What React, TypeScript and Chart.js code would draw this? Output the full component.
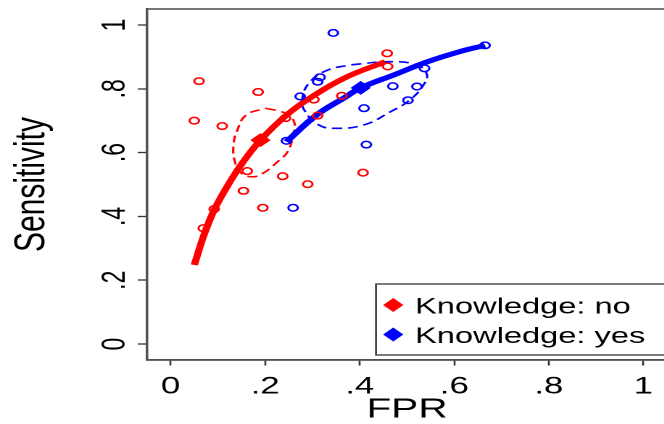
import React, { useEffect, useRef } from "react";
import { Chart, registerables } from "chart.js";

Chart.register(...registerables);

const RED = "#ff0000";
const BLUE = "#0000ff";
const AXIS = "#333333";
const FONT = "'Liberation Sans', Arial, Helvetica, sans-serif";

// The reference picture is widened horizontally; the chart is drawn narrower and stretched by this factor.
const STRETCH = 1.45;
const VIEW_W = 664;
const VIEW_H = 424;
const CANVAS_W = 467;
const CANVAS_H = 424;

const xTickValues = [0, 0.2, 0.4, 0.6, 0.8, 1];
const xTickLabels = ["0", ".2", ".4", ".6", ".8", "1"];
const yTickValues = [0, 0.2, 0.4, 0.6, 0.8, 1];
const yTickLabels = ["0", ".2", ".4", ".6", ".8", "1"];

const legendLabels = ["Knowledge: no", "Knowledge: yes"];
const legendColors = [RED, BLUE];

// Knowledge: no (red)
const noStudyFPR = [0.06, 0.185, 0.05, 0.109, 0.243, 0.303, 0.362, 0.311, 0.458, 0.459, 0.162, 0.237, 0.29, 0.407, 0.154, 0.195, 0.092, 0.069];
const noStudySens = [0.824, 0.79, 0.7, 0.683, 0.708, 0.766, 0.778, 0.716, 0.911, 0.87, 0.542, 0.526, 0.501, 0.537, 0.48, 0.427, 0.423, 0.363];
const noSummaryFPR = [0.19];
const noSummarySens = [0.639];
const noCurveFPR = [0.05, 0.07, 0.092, 0.122, 0.15, 0.19, 0.247, 0.302, 0.371, 0.454];
const noCurveSens = [0.248, 0.34, 0.42, 0.5, 0.564, 0.639, 0.72, 0.778, 0.836, 0.885];
const noRegionFPR = [0.202, 0.243, 0.261, 0.259, 0.247, 0.226, 0.195, 0.171, 0.147, 0.135, 0.133, 0.14, 0.16, 0.202];
const noRegionSens = [0.739, 0.723, 0.697, 0.655, 0.602, 0.571, 0.535, 0.524, 0.539, 0.577, 0.624, 0.666, 0.718, 0.739];

// Knowledge: yes (blue)
const yesStudyFPR = [0.344, 0.316, 0.311, 0.274, 0.245, 0.409, 0.414, 0.47, 0.521, 0.502, 0.537, 0.665, 0.259];
const yesStudySens = [0.975, 0.836, 0.822, 0.776, 0.637, 0.739, 0.625, 0.808, 0.807, 0.764, 0.864, 0.936, 0.427];
const yesSummaryFPR = [0.402];
const yesSummarySens = [0.803];
const yesCurveFPR = [0.245, 0.309, 0.371, 0.402, 0.475, 0.544, 0.613, 0.665];
const yesCurveSens = [0.634, 0.718, 0.775, 0.803, 0.845, 0.885, 0.917, 0.936];
const yesRegionFPR = [0.382, 0.465, 0.52, 0.541, 0.537, 0.506, 0.465, 0.409, 0.347, 0.313, 0.285, 0.278, 0.295, 0.333, 0.382];
const yesRegionSens = [0.875, 0.885, 0.875, 0.849, 0.817, 0.765, 0.728, 0.687, 0.676, 0.687, 0.728, 0.765, 0.822, 0.859, 0.875];

const pts = (xs: number[], ys: number[]) => xs.map((x, i) => ({ x, y: ys[i] }));

const framePlugin = {
  id: "frame",
  afterDraw(chart: any) {
    const { ctx, chartArea } = chart;
    ctx.save();
    ctx.strokeStyle = "#555555";
    ctx.lineWidth = 1.6;
    ctx.strokeRect(chartArea.left, chartArea.top, chartArea.right - chartArea.left, chartArea.bottom - chartArea.top);
    ctx.restore();
  },
};

const legendBoxPlugin = {
  id: "legendBox",
  afterDatasetsDraw(chart: any) {
    const ctx = chart.ctx;
    const bx = 259.3;
    const by = 284;
    const bw = 204;
    const bh = 71;
    ctx.save();
    ctx.fillStyle = "#ffffff";
    ctx.fillRect(bx, by, bw, bh);
    ctx.strokeStyle = "#444444";
    ctx.lineWidth = 1.4;
    ctx.strokeRect(bx, by, bw, bh);
    ctx.font = `22.5px ${FONT}`;
    ctx.textBaseline = "alphabetic";
    ctx.textAlign = "left";
    legendLabels.forEach((label, i) => {
      const cy = 305 + i * 29.5;
      const cx = 271.2;
      const r = 7;
      ctx.fillStyle = legendColors[i];
      ctx.beginPath();
      ctx.moveTo(cx, cy - r);
      ctx.lineTo(cx + r, cy);
      ctx.lineTo(cx, cy + r);
      ctx.lineTo(cx - r, cy);
      ctx.closePath();
      ctx.fill();
      ctx.fillStyle = "#000000";
      ctx.fillText(label, 286.2, cy + 8.3);
    });
    ctx.restore();
  },
};

export default function App() {
  const ref = useRef<HTMLCanvasElement>(null);

  useEffect(() => {
    if (!ref.current) return;
    Chart.defaults.font.family = FONT;
    Chart.defaults.color = "#000000";

    const studyStyle = (color: string) => ({
      showLine: false,
      pointStyle: "circle",
      pointRadius: 3.3,
      pointBorderWidth: 1.5,
      pointBorderColor: color,
      pointBackgroundColor: "rgba(0,0,0,0)",
      borderColor: color,
      backgroundColor: "rgba(0,0,0,0)",
    });
    const summaryStyle = (color: string) => ({
      showLine: false,
      pointStyle: "rectRot",
      pointRadius: 7,
      pointBorderWidth: 0,
      pointBackgroundColor: color,
      pointBorderColor: color,
      borderColor: color,
      backgroundColor: color,
    });
    const curveStyle = (color: string) => ({
      showLine: true,
      borderColor: color,
      borderWidth: 5,
      pointRadius: 0,
      tension: 0.4,
      borderCapStyle: "butt",
    });
    const regionStyle = (color: string) => ({
      showLine: true,
      borderColor: color,
      borderWidth: 1.6,
      borderDash: [7, 4],
      pointRadius: 0,
      tension: 0.45,
    });

    const chart = new Chart(ref.current, {
      type: "scatter",
      data: {
        datasets: [
          { label: legendLabels[0], data: pts(noSummaryFPR, noSummarySens), ...summaryStyle(RED) },
          { label: legendLabels[1], data: pts(yesSummaryFPR, yesSummarySens), ...summaryStyle(BLUE) },
          { label: "no studies", data: pts(noStudyFPR, noStudySens), ...studyStyle(RED) },
          { label: "yes studies", data: pts(yesStudyFPR, yesStudySens), ...studyStyle(BLUE) },
          { label: "no curve", data: pts(noCurveFPR, noCurveSens), ...curveStyle(RED) },
          { label: "yes curve", data: pts(yesCurveFPR, yesCurveSens), ...curveStyle(BLUE) },
          { label: "no region", data: pts(noRegionFPR, noRegionSens), ...regionStyle(RED) },
          { label: "yes region", data: pts(yesRegionFPR, yesRegionSens), ...regionStyle(BLUE) },
        ] as any,
      },
      options: {
        animation: false,
        responsive: false,
        devicePixelRatio: 2,
        layout: { padding: { left: 0, right: 0, top: 9, bottom: 0 } },
        plugins: {
          legend: { display: false },
          tooltip: { enabled: false },
        },
        scales: {
          x: {
            type: "linear",
            min: -0.05,
            max: 1.05,
            afterBuildTicks: (s: any) => {
              s.ticks = xTickValues.map((v) => ({ value: v }));
            },
            afterFit: (s: any) => {
              s.height = 64;
              s.paddingLeft = 0;
              s.paddingRight = 0;
            },
            grid: {
              display: true,
              drawOnChartArea: false,
              drawTicks: true,
              tickLength: 5.5,
              tickColor: AXIS,
              tickWidth: 1.3,
            },
            border: { display: true, color: AXIS, width: 1.6 },
            ticks: {
              autoSkip: false,
              maxRotation: 0,
              minRotation: 0,
              padding: 7,
              color: "#000000",
              font: { size: 24, family: FONT },
              callback: (v: any) => xTickLabels[xTickValues.indexOf(Number(v))],
            },
            title: {
              display: true,
              text: "FPR",
              color: "#000000",
              font: { size: 28, family: FONT, lineHeight: 1 },
              padding: { top: 0, bottom: 0 },
            },
          },
          y: {
            type: "linear",
            min: -0.05,
            max: 1.05,
            afterBuildTicks: (s: any) => {
              s.ticks = yTickValues.map((v) => ({ value: v }));
            },
            afterFit: (s: any) => {
              s.width = 101.4;
              s.paddingTop = 0;
              s.paddingBottom = 0;
            },
            grid: {
              display: true,
              drawOnChartArea: false,
              drawTicks: true,
              tickLength: 6.4,
              tickColor: AXIS,
              tickWidth: 1.3,
            },
            border: { display: true, color: AXIS, width: 1.6 },
            ticks: {
              minRotation: 90,
              maxRotation: 90,
              crossAlign: "center",
              padding: 6,
              color: "#000000",
              font: { size: 23, family: FONT },
              callback: (v: any) => yTickLabels[yTickValues.indexOf(Number(v))],
            },
            title: {
              display: true,
              text: "Sensitivity",
              color: "#000000",
              font: { size: 30, family: FONT, lineHeight: 1.2 },
              padding: { top: 4, bottom: 0 },
            },
          },
        },
      } as any,
      plugins: [framePlugin, legendBoxPlugin],
    });
    return () => chart.destroy();
  }, []);

  return (
    <div
      style={{
        position: "absolute",
        left: 0,
        top: 0,
        width: VIEW_W,
        height: VIEW_H,
        overflow: "hidden",
        background: "#ffffff",
      }}
    >
      <div
        style={{
          width: CANVAS_W,
          height: CANVAS_H,
          transform: `scaleX(${STRETCH})`,
          transformOrigin: "0 0",
        }}
      >
        <canvas ref={ref} width={CANVAS_W} height={CANVAS_H} style={{ display: "block" }} />
      </div>
    </div>
  );
}
